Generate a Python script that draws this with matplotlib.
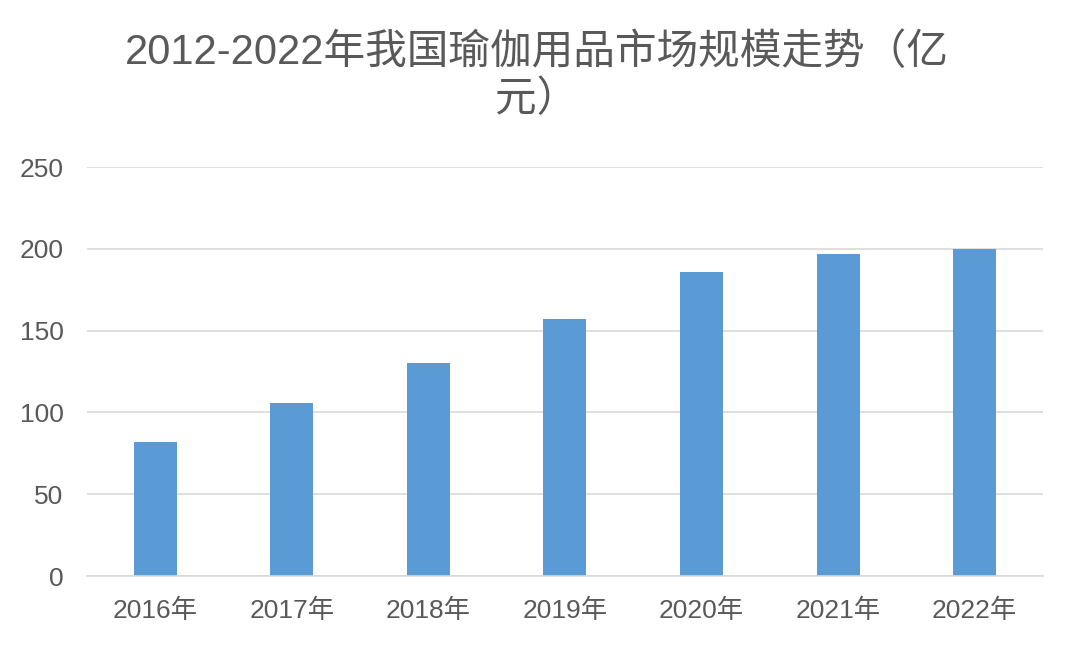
import matplotlib
matplotlib.use("Agg")
import matplotlib.pyplot as plt

plt.rcParams['font.family'] = ['Liberation Sans', 'Noto Sans CJK SC', 'DejaVu Sans']

years = ["2016年", "2017年", "2018年", "2019年", "2020年", "2021年", "2022年"]
market_size = [82, 106, 130, 157, 186, 197, 200]
title = "2012-2022年我国瑜伽用品市场规模走势（亿\n元）"

fig = plt.figure(figsize=(10.8, 6.5), dpi=100)
ax = fig.add_axes([0.0806, 0.1138, 0.885, 0.6292])

ax.bar(years, market_size, width=0.315, color="#5B9BD5", zorder=2)

ax.set_ylim(0, 250)
ax.set_xlim(-0.5, len(years) - 0.5)
ax.set_yticks(range(0, 251, 50))
ax.grid(axis="y", color="#d9d9d9", linewidth=1.2, zorder=0)
for s in ["top", "right", "left"]:
    ax.spines[s].set_visible(False)
ax.spines["bottom"].set_color("#d9d9d9")
ax.spines["bottom"].set_linewidth(1.2)
ax.tick_params(axis="both", length=0, colors="#595959", labelsize=19)
ax.tick_params(axis="x", pad=16)
ax.tick_params(axis="y", pad=17)

fig.text(0.497, 0.95, title, ha="center", va="top", fontsize=30,
         color="#595959", linespacing=1.25)

fig.savefig("out.png", dpi=100)
